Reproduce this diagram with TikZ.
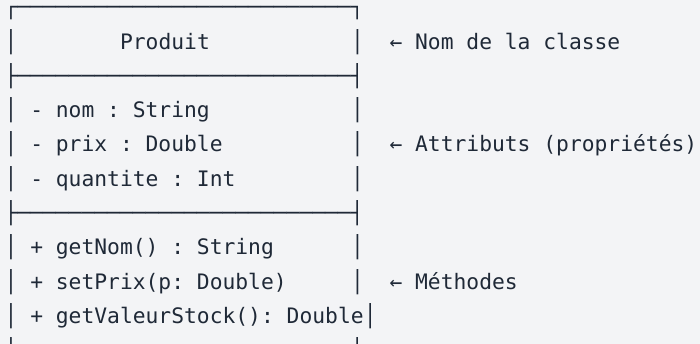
\documentclass[tikz,border=0pt]{standalone}
\usepackage{fontspec}
\setmonofont{DejaVu Sans Mono}
\usepackage{xcolor}

\definecolor{fond}{HTML}{F3F4F6}
\definecolor{encre}{HTML}{1F2937}
\newcommand{\codefont}{\fontsize{21.3}{25}\selectfont\ttfamily}

\begin{document}
\begin{tikzpicture}[x=12.83pt,y=-34.25pt,
    txt/.style={anchor=base west,inner sep=0pt,outer sep=0pt,text=encre,font=\codefont}]

            \clip (-4.6pt,15pt) rectangle ++(700pt,-344pt);
            \fill[fond] (-4.6pt,15pt) rectangle ++(700pt,-344pt);

            % cadre de la classe
            \node[txt] (haut) at (0,0) {┌──────────────────────────┐};
            \node[txt] (sep1) at (0,2) {├──────────────────────────┤};
            \node[txt] (sep2) at (0,6) {├──────────────────────────┤};
            \node[txt] (bas) at (0,10) {└──────────────────────────┘};

            \foreach \r in {1,3,4,5,7,8}{
                \node[txt] (g\r) at (0,\r) {│};
                \node[txt] (d\r) at (27,\r) {│};
            }
            \node[txt] (g9) at (0,9) {│};
            \node[txt] (d9) at (28,9) {│};

            % contenu
            \node[txt] (titre) at (9,1) {Produit};
            \node[txt] (nom) at (2,3) {- nom : String};
            \node[txt] (prix) at (2,4) {- prix : Double};
            \node[txt] (quantite) at (2,5) {- quantite : Int};
            \node[txt] (getnom) at (2,7) {+ getNom() : String};
            \node[txt] (setprix) at (2,8) {+ setPrix(p: Double)};
            \node[txt] (getvaleur) at (2,9) {+ getValeurStock(): Double};

            % legendes
            \node[txt] (lblnom) at (30,1) {← Nom de la classe};
            \node[txt] (lblattr) at (30,4) {← Attributs (propriétés)};
            \node[txt] (lblmeth) at (30,8) {← Méthodes};

        \end{tikzpicture}
\end{document}
